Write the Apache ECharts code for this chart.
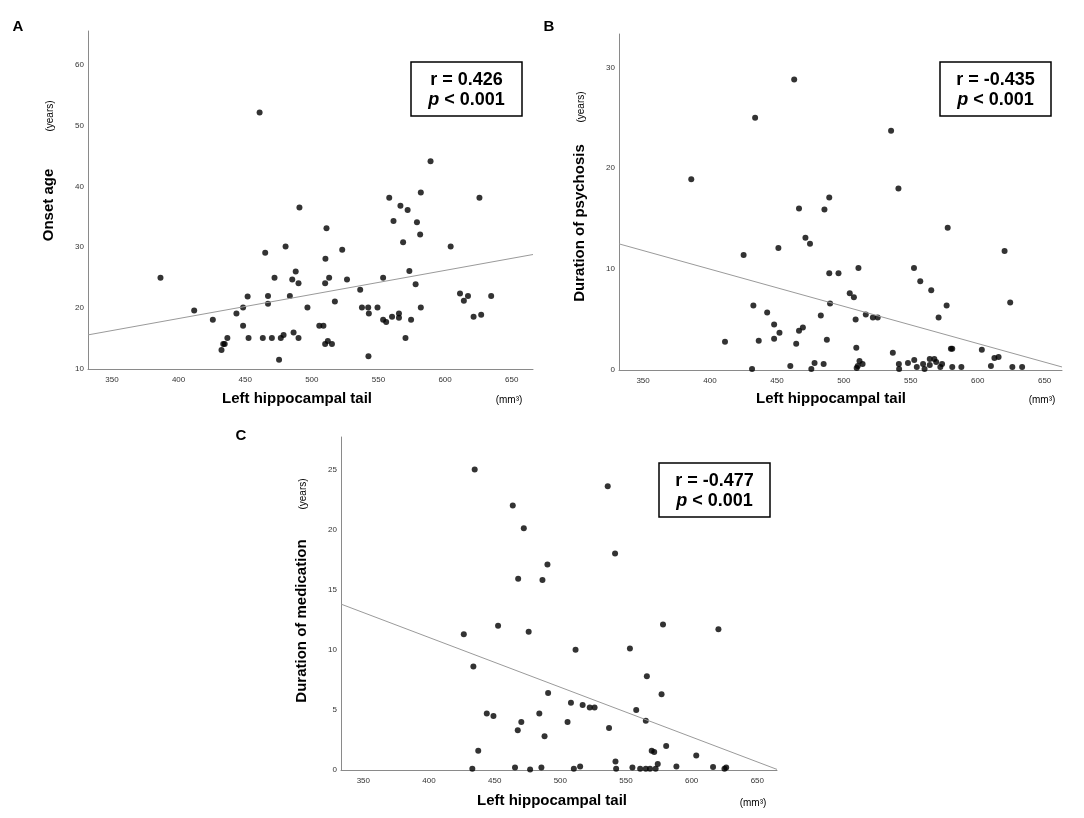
<!DOCTYPE html>
<html>
<head>
<meta charset="utf-8">
<script src="https://cdn.jsdelivr.net/npm/echarts@6/dist/echarts.min.js"></script>
<style>
  html, body { margin: 0; padding: 0; background: #fff; }
  #chart { width: 1084px; height: 818px; }
</style>
</head>
<body>
<div id="chart"></div>
<script>
// tick labels
var xTicks = [350, 400, 450, 500, 550, 600, 650];
var yTicksA = [10, 20, 30, 40, 50, 60];
var yTicksB = [0, 10, 20, 30];
var yTicksC = [0, 5, 10, 15, 20, 25];

// A: onset age vs left hippocampal tail
var onsetAge = [
  [386.4, 25.0], [411.7, 19.6], [425.7, 18.1], [432.2, 13.1], [433.5, 14.1], [434.6, 14.1],
  [436.6, 15.1], [443.4, 19.1], [448.4, 17.1], [448.4, 20.1], [451.8, 21.9], [452.5, 15.1],
  [460.8, 52.1], [463.2, 15.1], [465.0, 29.1], [467.1, 22.0], [467.1, 20.7], [470.0, 15.1],
  [472.0, 25.0], [475.4, 11.5], [476.7, 15.1], [478.8, 15.6], [480.3, 30.1], [483.5, 22.0],
  [485.3, 24.7], [486.3, 16.0], [487.9, 26.0], [490.0, 24.1], [490.0, 15.1], [490.7, 36.5],
  [496.7, 20.1], [505.6, 17.1], [508.7, 17.1], [510.0, 24.1], [510.2, 28.1], [510.0, 14.1],
  [511.0, 33.1], [512.0, 14.6], [513.0, 25.0], [515.1, 14.1], [517.3, 21.1], [522.8, 29.6],
  [526.4, 24.7], [536.3, 23.0], [537.6, 20.1], [542.3, 20.1], [542.8, 19.1], [542.5, 12.1],
  [549.3, 20.1], [553.5, 25.0], [553.5, 18.1], [555.8, 17.7], [558.1, 38.1], [560.2, 18.6],
  [561.3, 34.3], [565.4, 19.1], [565.4, 18.4], [566.5, 36.8], [568.5, 30.8], [570.3, 15.1],
  [571.9, 36.1], [573.2, 26.1], [574.5, 18.1], [577.9, 23.9], [578.9, 34.1], [581.3, 32.1],
  [581.8, 39.0], [581.8, 20.1], [589.1, 44.1], [604.2, 30.1], [611.2, 22.4], [614.1, 21.2],
  [617.2, 22.0], [621.4, 18.6], [625.8, 38.1], [627.1, 18.9], [634.6, 22.0]
];
var fitA = [[332, 15.6], [666, 28.8]];

// B: duration of psychosis
var psychosis = [
  [386.0, 18.9], [411.2, 2.8], [425.1, 11.4], [431.4, 0.1], [432.4, 6.4], [433.7, 25.0],
  [436.4, 2.9], [442.7, 5.7], [447.9, 4.5], [447.9, 3.1], [451.1, 12.1], [451.9, 3.7],
  [460.0, 0.4], [462.9, 28.8], [464.4, 2.6], [466.5, 16.0], [466.5, 3.9], [469.4, 4.2],
  [471.3, 13.1], [474.7, 12.5], [475.7, 0.1], [478.1, 0.7], [482.8, 5.4], [484.9, 0.6],
  [485.5, 15.9], [487.3, 3.0], [489.1, 17.1], [489.1, 9.6], [489.7, 6.6], [496.0, 9.6],
  [504.4, 7.6], [507.5, 7.2], [508.8, 5.0], [509.3, 2.2], [509.6, 0.2], [510.4, 0.4],
  [510.9, 10.1], [511.7, 0.9], [514.0, 0.6], [516.4, 5.5], [521.7, 5.2], [525.3, 5.2],
  [535.3, 23.7], [536.6, 1.7], [540.8, 18.0], [541.1, 0.6], [541.3, 0.1], [547.9, 0.7],
  [552.4, 10.1], [552.6, 1.0], [554.5, 0.3], [557.1, 8.8], [559.2, 0.6], [560.3, 0.1],
  [564.2, 1.1], [564.2, 0.5], [565.3, 7.9], [567.6, 1.1], [569.0, 0.8], [570.8, 5.2],
  [572.1, 0.3], [573.4, 0.6], [576.8, 6.4], [577.6, 14.1], [580.0, 2.1], [581.0, 2.1],
  [581.0, 0.3], [587.8, 0.3], [603.1, 2.0], [609.9, 0.4], [612.5, 1.2], [615.6, 1.3],
  [620.1, 11.8], [624.3, 6.7], [625.9, 0.3], [633.2, 0.3]
];
var fitB = [[332, 12.5], [663, 0.3]];

// C: duration of medication
var medication = [
  [426.5, 11.3], [433.0, 0.1], [433.8, 8.6], [434.8, 25.0], [437.5, 1.6], [444.0, 4.7],
  [449.1, 4.5], [452.6, 12.0], [463.8, 22.0], [465.5, 0.2], [467.6, 3.3], [467.9, 15.9],
  [470.3, 4.0], [472.2, 20.1], [475.9, 11.5], [477.0, 0.05], [484.0, 4.7], [485.6, 0.2],
  [486.4, 15.8], [488.0, 2.8], [490.2, 17.1], [490.7, 6.4], [505.5, 4.0], [508.1, 5.6],
  [510.3, 0.1], [511.6, 10.0], [515.1, 0.3], [517.0, 5.4], [522.4, 5.2], [526.1, 5.2],
  [536.1, 23.6], [537.1, 3.5], [541.7, 18.0], [542.0, 0.7], [542.5, 0.1], [553.0, 10.1],
  [554.9, 0.2], [557.8, 5.0], [560.8, 0.1], [565.1, 4.1], [565.9, 7.8], [565.1, 0.1],
  [568.3, 0.1], [569.6, 1.6], [571.5, 1.5], [572.6, 0.1], [574.2, 0.5], [577.1, 6.3],
  [578.2, 12.1], [580.6, 2.0], [588.4, 0.3], [603.5, 1.2], [616.3, 0.25], [620.4, 11.7],
  [625.0, 0.1], [626.3, 0.2]
];
var fitC = [[333, 13.8], [665, 0.05]];

var chart = echarts.init(document.getElementById('chart'));

var axisGray = '#8a8a8a';
var tickFont = { fontFamily: 'Liberation Sans', fontSize: 8, color: '#333' };

function xAxisFor(idx, min, max) {
  return {
    type: 'value', gridIndex: idx, min: min, max: max,
    splitLine: { show: false },
    axisTick: { show: false },
    axisLine: { lineStyle: { color: axisGray, width: 1 } },
    axisLabel: Object.assign({ customValues: xTicks, margin: 7 }, tickFont)
  };
}
function yAxisFor(idx, min, max, ticks) {
  return {
    type: 'value', gridIndex: idx, min: min, max: max,
    splitLine: { show: false },
    axisTick: { show: false },
    axisLine: { show: true, lineStyle: { color: axisGray, width: 1 } },
    axisLabel: Object.assign({ customValues: ticks, margin: 4 }, tickFont)
  };
}
function dots(idx, data) {
  return {
    type: 'scatter', xAxisIndex: idx, yAxisIndex: idx, data: data,
    symbolSize: 6, itemStyle: { color: '#000' }, silent: true
  };
}
function fit(idx, data) {
  return {
    type: 'line', xAxisIndex: idx, yAxisIndex: idx, data: data,
    symbol: 'none', lineStyle: { color: '#9a9a9a', width: 1 }, silent: true
  };
}

// text helpers
function txt(x, y, s, size, weight, rot, extra) {
  return Object.assign({
    type: 'text', x: x, y: y, rotation: rot || 0,
    style: {
      text: s, fontFamily: 'Liberation Sans', fontSize: size, fontWeight: weight || 'normal',
      fill: '#000', align: 'center', verticalAlign: 'middle'
    }
  }, extra || {});
}
function statBox(cx, top, rText) {
  return [
    { type: 'rect', shape: { x: cx - 55.5, y: top, width: 111, height: 54 },
      style: { fill: '#fff', stroke: '#000', lineWidth: 1.5 } },
    txt(cx, top + 18, rText, 18, 'bold'),
    {
      type: 'text', x: cx, y: top + 38,
      style: {
        text: '{i|p} < 0.001', align: 'center', verticalAlign: 'middle',
        fontFamily: 'Liberation Sans', fontSize: 18, fontWeight: 'bold', fill: '#000',
        rich: { i: { fontStyle: 'italic', fontWeight: 'bold', fontSize: 18, fontFamily: 'Liberation Sans' } }
      }
    }
  ];
}

var R = Math.PI / 2;
var graphics = [
  txt(18, 27, 'A', 15, 'bold'),
  txt(549, 27, 'B', 15, 'bold'),
  txt(241, 436, 'C', 15, 'bold'),
  txt(49, 205, 'Onset age', 15, 'bold', R),
  txt(50, 116, '(years)', 10, 'normal', R),
  txt(580, 223, 'Duration of psychosis', 15, 'bold', R),
  txt(581, 107, '(years)', 10, 'normal', R),
  txt(302, 621, 'Duration of medication', 15, 'bold', R),
  txt(303, 494, '(years)', 10, 'normal', R),
  txt(297, 399, 'Left hippocampal tail', 15, 'bold'),
  txt(509, 400, '(mm³)', 10, 'normal'),
  txt(831, 399, 'Left hippocampal tail', 15, 'bold'),
  txt(1042, 400, '(mm³)', 10, 'normal'),
  txt(552, 801, 'Left hippocampal tail', 15, 'bold'),
  txt(753, 803, '(mm³)', 10, 'normal')
].concat(statBox(466.5, 62, 'r = 0.426'))
 .concat(statBox(995.5, 62, 'r = -0.435'))
 .concat(statBox(714.5, 463, 'r = -0.477'));

chart.setOption({
  backgroundColor: '#fff',
  animation: false,
  grid: [
    { left: 88, top: 31, width: 445, height: 338 },
    { left: 619, top: 34, width: 443, height: 336 },
    { left: 341, top: 437, width: 436, height: 333 }
  ],
  xAxis: [xAxisFor(0, 332, 666), xAxisFor(1, 332, 663), xAxisFor(2, 333, 665)],
  yAxis: [yAxisFor(0, 10, 65.5, yTicksA), yAxisFor(1, 0, 33.3, yTicksB), yAxisFor(2, 0, 27.7, yTicksC)],
  series: [fit(0, fitA), dots(0, onsetAge), fit(1, fitB), dots(1, psychosis), fit(2, fitC), dots(2, medication)],
  graphic: graphics
});
</script>
</body>
</html>
